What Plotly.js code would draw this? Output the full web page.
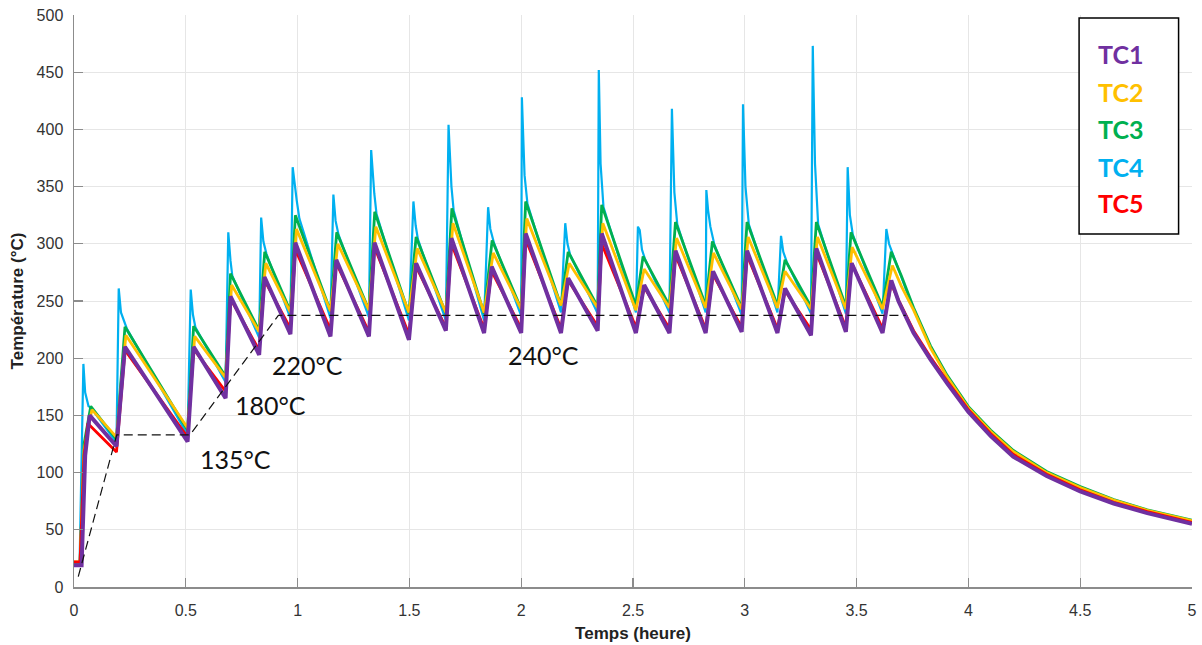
<!DOCTYPE html>
<html>
<head>
<meta charset="utf-8">
<script src="https://cdn.plot.ly/plotly-3.0.1.min.js"></script>
<style>
  html, body { margin: 0; padding: 0; background: #ffffff; }
  #chart { width: 1202px; height: 645px; }
</style>
</head>
<body>
<div id="chart"></div>
<script>
// ---------- Data ----------
const seriesNames = ["TC1", "TC2", "TC3", "TC4", "TC5"];
const seriesColors = ["#7030A0", "#FFC000", "#00B050", "#00B0F0", "#FF0000"];

// TC1 (purple)
const tc1_t = [0, 0.034, 0.050, 0.070,
  0.190, 0.228, 0.508, 0.535, 0.678, 0.700, 0.828, 0.852, 0.968, 0.990,
  1.147, 1.173, 1.319, 1.344, 1.498, 1.530, 1.663, 1.688, 1.834, 1.868,
  2.000, 2.020, 2.178, 2.210, 2.342, 2.360, 2.513, 2.550, 2.663, 2.690,
  2.825, 2.858, 2.986, 3.010, 3.146, 3.180, 3.296, 3.320, 3.452, 3.478,
  3.616, 3.655,
  3.687, 3.755, 3.83, 3.905, 4.0, 4.1, 4.2, 4.35, 4.5, 4.65, 4.8, 5.0];
const tc1_y = [19, 19, 115, 150,
  123, 210, 127, 210, 165, 254, 203, 271, 221, 301,
  219, 286, 219, 301, 216, 283, 224, 305, 222, 280,
  222, 309, 222, 270, 224, 309, 222, 264, 222, 294,
  222, 276, 223, 294, 222, 261, 220, 296, 223, 283,
  222, 268,
  250, 222, 199, 178, 153, 132, 114, 97, 83.5, 73, 64.6, 55.3];

// TC2 (yellow)
const tc2_t = [0, 0.027, 0.045, 0.080,
  0.190, 0.232, 0.508, 0.540, 0.678, 0.705, 0.828, 0.858, 0.968, 0.995,
  1.147, 1.180, 1.319, 1.350, 1.498, 1.535, 1.663, 1.695, 1.834, 1.875,
  2.000, 2.025, 2.178, 2.215, 2.342, 2.365, 2.513, 2.550, 2.663, 2.695,
  2.825, 2.860, 2.986, 3.015, 3.146, 3.180, 3.296, 3.325, 3.452, 3.480,
  3.616, 3.660,
  3.700, 3.740, 3.755, 3.83, 3.905, 4.0, 4.1, 4.2, 4.35, 4.5, 4.65, 4.8, 5.0];
const tc2_y = [22, 22, 120, 155,
  131, 220, 139, 219, 183, 264, 223, 283, 240, 313,
  241, 300, 242, 315, 240, 296, 240, 318, 240, 292,
  243, 322, 246, 283, 244, 318, 242, 278, 244, 305,
  244, 292, 243, 306, 244, 276, 243, 306, 243, 297,
  243, 281,
  263, 248, 242, 209, 183.5, 156.5, 136, 118.5, 100, 87, 76, 67, 58];

// TC3 (green)
const tc3_t = [0, 0.027, 0.045, 0.075,
  0.190, 0.228, 0.508, 0.535, 0.678, 0.700, 0.828, 0.853, 0.968, 0.990,
  1.147, 1.175, 1.319, 1.345, 1.498, 1.530, 1.663, 1.690, 1.834, 1.870,
  2.000, 2.020, 2.178, 2.210, 2.342, 2.360, 2.513, 2.545, 2.663, 2.690,
  2.825, 2.855, 2.986, 3.010, 3.146, 3.180, 3.296, 3.320, 3.452, 3.475,
  3.616, 3.655,
  3.700, 3.740, 3.755, 3.83, 3.905, 4.0, 4.1, 4.2, 4.35, 4.5, 4.65, 4.8, 5.0];
const tc3_y = [20, 20, 125, 158,
  129, 227.5, 137, 228, 184, 274, 224, 293, 241, 325,
  241, 310, 242, 328, 239, 306, 239, 331, 239, 303,
  243, 337, 246, 293, 245, 334, 246, 289, 246, 319,
  246, 302, 244, 319, 246, 286, 245, 319, 245, 310,
  245, 293,
  272, 250.5, 244, 211, 185, 157.7, 137, 119.5, 101, 87.8, 76.5, 67.5, 58.5];

// TC4 (blue)
const tc4_t = [0, 0.025, 0.042, 0.050, 0.065, 0.075,
  0.190, 0.200, 0.210, 0.236,
  0.508, 0.522, 0.532, 0.543,
  0.678, 0.690, 0.700, 0.708,
  0.828, 0.837, 0.847, 0.861,
  0.968, 0.978, 0.996, 1.008,
  1.147, 1.160, 1.170, 1.183,
  1.319, 1.329, 1.343, 1.353,
  1.498, 1.518, 1.528, 1.538,
  1.663, 1.675, 1.688, 1.698,
  1.834, 1.852, 1.862, 1.878,
  2.000, 2.003, 2.015, 2.028,
  2.178, 2.197, 2.207, 2.218,
  2.342, 2.347, 2.355, 2.368,
  2.513, 2.522, 2.530, 2.540, 2.553,
  2.663, 2.674, 2.685, 2.698,
  2.825, 2.828, 2.836, 2.846, 2.863,
  2.986, 2.992, 3.003, 3.018,
  3.146, 3.162, 3.172, 3.188,
  3.296, 3.304, 3.314, 3.328,
  3.452, 3.460, 3.470, 3.483,
  3.616, 3.633, 3.645, 3.663,
  3.700, 3.740, 3.755, 3.83, 3.905, 4.0, 4.1, 4.2, 4.35, 4.5, 4.65, 4.8, 5.0];
const tc4_y = [20, 20, 195, 170, 158, 157,
  126, 261, 240, 226,
  133, 260, 238, 227,
  179, 310, 285, 272,
  218, 323, 302, 291,
  235, 367, 338, 322,
  235, 343, 320, 308,
  236, 382, 344, 326,
  233, 337, 316, 304,
  233, 404, 350, 329,
  233, 332, 313, 301,
  237, 428, 360, 335,
  240, 318, 300, 291,
  239, 452, 370, 332,
  240, 315, 312, 295, 287,
  240, 418, 345, 317,
  240, 347, 329, 315, 300,
  238, 422, 350, 317,
  240, 307, 293, 284,
  239, 473, 370, 317,
  239, 367, 325, 308,
  239, 313, 300, 291,
  271, 250, 243, 210, 184, 157, 136.5, 119, 100.5, 87.5, 76, 67, 58];

// TC5 (red)
const tc5_t = [0, 0.027, 0.045, 0.062,
  0.190, 0.228, 0.508, 0.535, 0.678, 0.700, 0.828, 0.852, 0.968, 0.990,
  1.147, 1.173, 1.319, 1.344, 1.498, 1.530, 1.663, 1.688, 1.834, 1.868,
  2.000, 2.020, 2.178, 2.210, 2.342, 2.360, 2.513, 2.550, 2.663, 2.690,
  2.825, 2.858, 2.986, 3.010, 3.146, 3.180, 3.296, 3.320, 3.452, 3.478,
  3.616, 3.655,
  3.687, 3.755, 3.83, 3.905, 4.0, 4.1, 4.2, 4.35, 4.5, 4.65, 4.8, 5.0];
const tc5_y = [22, 22, 115, 143,
  118, 207, 131, 208, 171, 252, 207, 268, 226, 295,
  225, 283, 223, 297, 221, 280, 227, 300, 226, 276,
  226, 304, 226, 268, 228, 300, 227, 262, 226, 290,
  226, 273, 227, 290, 226, 259, 225, 292, 227, 283,
  226, 265,
  251, 224, 201, 180, 155, 134, 116, 98.5, 85, 74, 66, 56.5];

// Setpoint (dashed) profile
const setpoint_t = [0.019, 0.191, 0.519, 0.914, 3.72];
const setpoint_y = [9, 133, 133, 237.5, 237.5];

// Setpoint labels
const labelText = ["135°C", "180°C", "220°C", "240°C"];
const label_t = [0.722, 0.881, 1.046, 2.100];
const label_y = [112, 159, 194, 203];

// X / Y ticks
const xTicks = [0, 0.5, 1, 1.5, 2, 2.5, 3, 3.5, 4, 4.5, 5];
const yTicks = [0, 50, 100, 150, 200, 250, 300, 350, 400, 450, 500];

// ---------- Traces ----------
const seriesData = {
  TC1: [tc1_t, tc1_y], TC2: [tc2_t, tc2_y], TC3: [tc3_t, tc3_y],
  TC4: [tc4_t, tc4_y], TC5: [tc5_t, tc5_y]
};
const widths = { TC1: 4, TC2: 2.8, TC3: 2.8, TC4: 2.2, TC5: 2.8 };
const drawOrder = ["TC4", "TC3", "TC2", "TC5", "TC1"];

const traces = drawOrder.map(name => {
  const i = seriesNames.indexOf(name);
  return {
    type: "scatter", mode: "lines", name: name,
    x: seriesData[name][0], y: seriesData[name][1],
    line: { color: seriesColors[i], width: widths[name] },
    showlegend: false, hoverinfo: "skip"
  };
});

traces.push({
  type: "scatter", mode: "lines", name: "consigne",
  x: setpoint_t, y: setpoint_y,
  line: { color: "#111111", width: 1.2, dash: "9px,5px" },
  showlegend: false, hoverinfo: "skip"
});

// ---------- Annotations ----------
const annotations = labelText.map((txt, i) => ({
  x: label_t[i], y: label_y[i], xref: "x", yref: "y",
  text: txt, showarrow: false,
  font: { family: "Lato, 'Open Sans', sans-serif", size: 25, color: "#111111" },
  xanchor: "center", yanchor: "middle"
}));

// Custom legend (coloured text in a box)
const legendY = [0.9318, 0.8659, 0.8007, 0.7348, 0.6708];
seriesNames.forEach((name, i) => {
  annotations.push({
    x: 0.9356, y: legendY[i], xref: "paper", yref: "paper",
    text: name, showarrow: false,
    font: { family: "Lato, 'Open Sans', sans-serif", size: 25, color: seriesColors[i], weight: 700 },
    xanchor: "center", yanchor: "middle"
  });
});

const axisColor = "#8c8c8c";
const layout = {
  width: 1202, height: 645,
  margin: { l: 74, r: 10, t: 15, b: 58, pad: 0 },
  paper_bgcolor: "#ffffff", plot_bgcolor: "#ffffff",
  showlegend: false,
  xaxis: {
    range: [0, 5], tickvals: xTicks, ticktext: xTicks.map(String),
    showgrid: true, gridcolor: "#e6e6e6", gridwidth: 1,
    zeroline: false, showline: true, linecolor: axisColor, linewidth: 1.5,
    ticks: "inside", ticklen: 9, tickwidth: 1.2, tickcolor: axisColor,
    ticklabelstandoff: 8,
    tickfont: { family: "Arial, 'Liberation Sans', sans-serif", size: 16, color: "#333333" },
    title: { text: "Temps (heure)", standoff: 9,
      font: { family: "Arial, 'Liberation Sans', sans-serif", size: 17, color: "#222222", weight: 700 } }
  },
  yaxis: {
    range: [0, 500], tickvals: yTicks, ticktext: yTicks.map(String),
    showgrid: true, gridcolor: "#e6e6e6", gridwidth: 1,
    zeroline: false, showline: true, linecolor: axisColor, linewidth: 1.5,
    ticks: "inside", ticklen: 9, tickwidth: 1.2, tickcolor: axisColor,
    ticklabelstandoff: 6,
    tickfont: { family: "Arial, 'Liberation Sans', sans-serif", size: 16, color: "#333333" },
    title: { text: "Température (°C)", standoff: 8,
      font: { family: "Arial, 'Liberation Sans', sans-serif", size: 17, color: "#222222", weight: 700 } }
  },
  shapes: [{
    type: "rect", xref: "paper", yref: "paper",
    x0: 0.899, x1: 0.988, y0: 0.6173, y1: 0.9948,
    line: { color: "#000000", width: 1.5 }, fillcolor: "#ffffff", layer: "above"
  }],
  annotations: annotations
};

Plotly.newPlot("chart", traces, layout, { displayModeBar: false, staticPlot: true });
</script>
</body>
</html>
